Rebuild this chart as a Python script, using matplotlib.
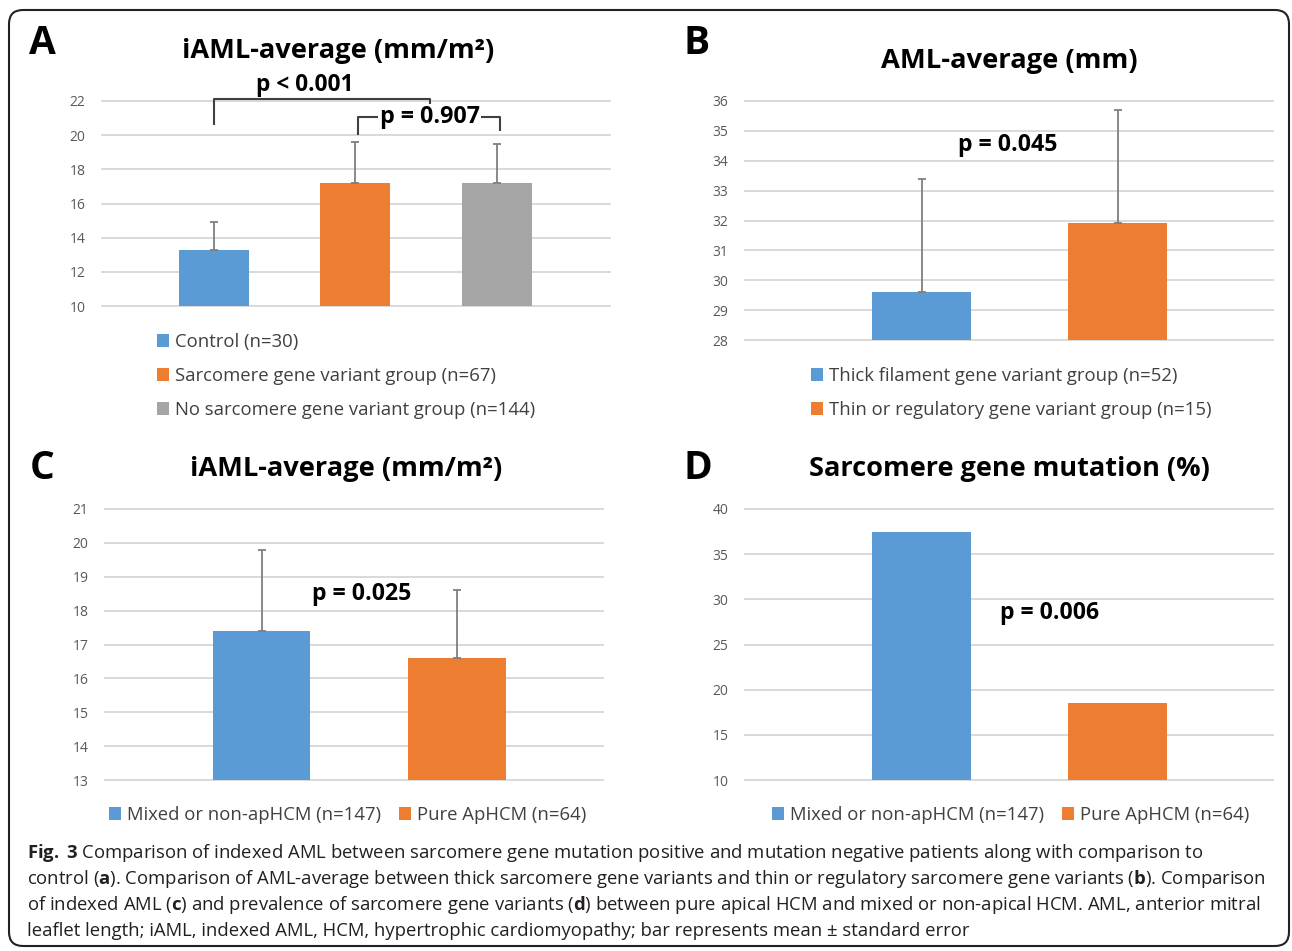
import matplotlib
matplotlib.use("Agg")
import matplotlib.pyplot as plt
from matplotlib.patches import FancyBboxPatch
from matplotlib.transforms import IdentityTransform

# ---------------- data ----------------
a_labels = ["Control (n=30)", "Sarcomere gene variant group (n=67)",
            "No sarcomere gene variant group (n=144)"]
a_mean = [13.3, 17.2, 17.2]
a_err = [1.6, 2.4, 2.3]

b_labels = ["Thick filament gene variant group (n=52)",
            "Thin or regulatory gene variant group (n=15)"]
b_mean = [29.6, 31.9]
b_err = [3.8, 3.8]

c_labels = ["Mixed or non-apHCM (n=147)", "Pure ApHCM (n=64)"]
c_mean = [17.4, 16.6]
c_err = [2.4, 2.0]

d_labels = ["Mixed or non-apHCM (n=147)", "Pure ApHCM (n=64)"]
d_mean = [37.4, 18.5]

a_ticks = [10, 12, 14, 16, 18, 20, 22]
b_ticks = [28, 29, 30, 31, 32, 33, 34, 35, 36]
c_ticks = [13, 14, 15, 16, 17, 18, 19, 20, 21]
d_ticks = [10, 15, 20, 25, 30, 35, 40]

titles = ["iAML-average (mm/m²)", "AML-average (mm)",
          "iAML-average (mm/m²)", "Sarcomere gene mutation (%)"]
pvals = ["p < 0.001", "p = 0.907", "p = 0.045", "p = 0.025", "p = 0.006"]

caption_lines = [
    r"$\mathbf{Fig.\:3}$ Comparison of indexed AML between sarcomere gene mutation positive and mutation negative patients along with comparison to",
    r"control ($\mathbf{a}$). Comparison of AML-average between thick sarcomere gene variants and thin or regulatory sarcomere gene variants ($\mathbf{b}$). Comparison",
    r"of indexed AML ($\mathbf{c}$) and prevalence of sarcomere gene variants ($\mathbf{d}$) between pure apical HCM and mixed or non-apical HCM. AML, anterior mitral",
    "leaflet length; iAML, indexed AML, HCM, hypertrophic cardiomyopathy; bar represents mean \u00b1 standard error",
]

BLUE, ORANGE, GRAY = "#5B9BD5", "#ED7D31", "#A5A5A5"
FONT = "Open Sans"
plt.rcParams["font.family"] = [FONT, "DejaVu Sans"]
plt.rcParams["mathtext.fontset"] = "custom"
plt.rcParams["mathtext.rm"] = FONT
plt.rcParams["mathtext.bf"] = FONT + ":bold"

W, H = 1292, 951
fig = plt.figure(figsize=(W / 100, H / 100), dpi=100)
renderer = fig.canvas.get_renderer()


def ax_at(x0, y0, x1, y1):
    return fig.add_axes([x0 / W, 1 - y1 / H, (x1 - x0) / W, (y1 - y0) / H])


def fit(t, target):
    w = t.get_window_extent(renderer).width
    t.set_fontsize(t.get_fontsize() * target / w)
    return t


def style(ax, ticks, xlim):
    ax.set_ylim(ticks[0], ticks[-1])
    ax.set_xlim(*xlim)
    ax.set_yticks(ticks)
    ax.yaxis.grid(True, color="#D9D9D9", lw=1.4)
    for gl in ax.yaxis.get_gridlines():
        gl.set_clip_on(False)
    ax.set_axisbelow(True)
    for s in ax.spines.values():
        s.set_visible(False)
    ax.tick_params(axis="y", length=0, pad=12, labelsize=10, labelcolor="#595959")
    ax.set_xticks([])
    ax.patch.set_alpha(0)


def bars(ax, means, errs, labels, colors, width):
    xs = list(range(len(means)))
    for x, m, lab, c in zip(xs, means, labels, colors):
        ax.bar(x, m, width=width, color=c, label=lab, zorder=2)
    if errs is not None:
        ax.errorbar(xs, means, yerr=[[0] * len(errs), errs], fmt="none",
                    ecolor="#7F7F7F", elinewidth=1.3, capsize=3, capthick=1.3, zorder=3)


def legend(ax, px, py, ncol=1, fs=12.5, spacing=0.9, colsp=1.2):
    return ax.legend(loc="upper left", bbox_to_anchor=(px / W, 1 - py / H),
                     bbox_transform=fig.transFigure, frameon=False, borderpad=0,
                     borderaxespad=0, handlelength=0.65, handleheight=0.65,
                     handletextpad=0.3, labelspacing=spacing, ncol=ncol,
                     columnspacing=colsp, fontsize=fs, labelcolor="#404040")


# legend font size fitted to the reference text width
tmp = fig.text(0, 0, a_labels[1], fontsize=12)
leg_fs = 12 * 320 / tmp.get_window_extent(renderer).width
tmp.remove()

# ---------------- panel A ----------------
axA = ax_at(102, 101, 610, 306)
style(axA, a_ticks, (-0.79, 2.80))
bars(axA, a_mean, a_err, a_labels, [BLUE, ORANGE, GRAY], 0.495)
bk = dict(color="#404040", lw=1.5, clip_on=False, solid_capstyle="butt")
axA.plot([0, 0, 1.53, 1.53], [20.6, 22.12, 22.12, 21.85], **bk)
axA.plot([1.02, 1.02, 1.16], [20.0, 21.07, 21.07], **bk)
axA.plot([1.89, 2.02, 2.02], [21.07, 21.07, 20.25], **bk)
tA1 = axA.text(0.64, 22.95, pvals[0], ha="center", va="center", weight="bold", fontsize=14, clip_on=False)
tA2 = axA.text(1.525, 21.07, pvals[1], ha="center", va="center", weight="bold", fontsize=14, clip_on=False)
fit(tA1, 98)
fit(tA2, 101)
legend(axA, 157, 333, fs=leg_fs, spacing=0.86)

# ---------------- panel B ----------------
axB = ax_at(745, 101, 1273, 340)
style(axB, b_ticks, (-0.90, 1.79))
bars(axB, b_mean, b_err, b_labels, [BLUE, ORANGE], 0.505)
tB = axB.text(0.44, 34.52, pvals[2], ha="center", va="center", weight="bold", fontsize=14)
fit(tB, 100)
legend(axB, 811, 367, fs=leg_fs, spacing=0.86)

# ---------------- panel C ----------------
axC = ax_at(105, 509, 603, 780)
style(axC, c_ticks, (-0.80, 1.745))
bars(axC, c_mean, c_err, c_labels, [BLUE, ORANGE], 0.5)
tC = axC.text(0.51, 18.49, pvals[3], ha="center", va="center", weight="bold", fontsize=14)
fit(tC, 100)
legend(axC, 109, 806, ncol=2, fs=leg_fs, colsp=1.0)

# ---------------- panel D ----------------
axD = ax_at(745, 509, 1273, 780)
style(axD, d_ticks, (-0.90, 1.79))
bars(axD, d_mean, None, d_labels, [BLUE, ORANGE], 0.505)
tD = axD.text(0.65, 28.5, pvals[4], ha="center", va="center", weight="bold", fontsize=14)
fit(tD, 100)
legend(axD, 772, 806, ncol=2, fs=leg_fs, colsp=1.0)

# ---------------- titles & panel letters ----------------
title_pos = [(338, 51, 313), (1009, 61, 258), (346, 469, 313), (1009, 469, 402)]
for (x, y, w), t in zip(title_pos, titles):
    tt = fig.text(x / W, 1 - y / H, t, ha="center", va="center", weight="bold", fontsize=18)
    fit(tt, w)
for (x, y), L in zip([(42, 44), (697, 44), (42, 468), (698, 468)], "ABCD"):
    fig.text(x / W, 1 - y / H, L, ha="center", va="center", weight="bold", fontsize=28)

# ---------------- caption ----------------
cap_texts = []
for i, line in enumerate(caption_lines):
    y = 858 + 26 * i
    cap_texts.append(fig.text(27 / W, 1 - y / H, line, ha="left", va="baseline",
                              fontsize=12, color="#231F20"))
w2 = cap_texts[1].get_window_extent(renderer).width
for t in cap_texts:
    t.set_fontsize(12 * 1235 / w2)

# ---------------- border ----------------
border = FancyBboxPatch((9, 5), 1280, 936, boxstyle="round,pad=0,rounding_size=14",
                        transform=IdentityTransform(), fill=False, ec="#222222", lw=1.5)
fig.add_artist(border)

fig.savefig("out.png", dpi=100)
